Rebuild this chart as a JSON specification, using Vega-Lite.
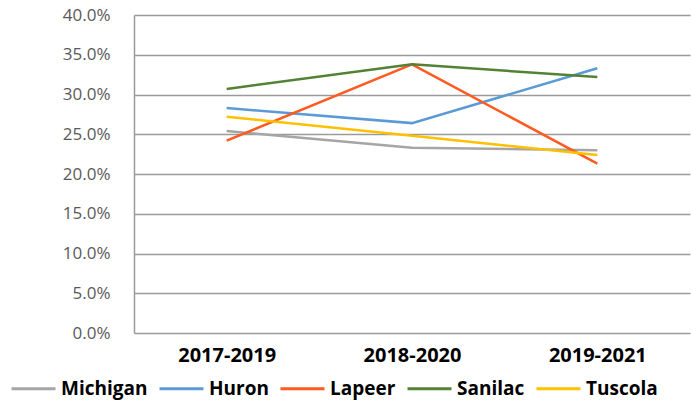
{
  "$schema": "https://vega.github.io/schema/vega-lite/v6.json",
  "width": 556,
  "height": 318,
  "autosize": {"type": "none"},
  "padding": {"left": 134, "top": 15, "right": 2, "bottom": 67},
  "background": "white",
  "config": {"view": {"stroke": null}, "font": "Open Sans"},
  "data": {
    "values": [
      {"period": "2017-2019", "area": "Michigan", "rate": 0.254},
      {"period": "2018-2020", "area": "Michigan", "rate": 0.233},
      {"period": "2019-2021", "area": "Michigan", "rate": 0.230},
      {"period": "2017-2019", "area": "Huron", "rate": 0.283},
      {"period": "2018-2020", "area": "Huron", "rate": 0.264},
      {"period": "2019-2021", "area": "Huron", "rate": 0.333},
      {"period": "2017-2019", "area": "Lapeer", "rate": 0.242},
      {"period": "2018-2020", "area": "Lapeer", "rate": 0.338},
      {"period": "2019-2021", "area": "Lapeer", "rate": 0.213},
      {"period": "2017-2019", "area": "Sanilac", "rate": 0.307},
      {"period": "2018-2020", "area": "Sanilac", "rate": 0.338},
      {"period": "2019-2021", "area": "Sanilac", "rate": 0.322},
      {"period": "2017-2019", "area": "Tuscola", "rate": 0.272},
      {"period": "2018-2020", "area": "Tuscola", "rate": 0.248},
      {"period": "2019-2021", "area": "Tuscola", "rate": 0.224}
    ]
  },
  "mark": {"type": "line", "strokeWidth": 2.5},
  "encoding": {
    "x": {
      "field": "period",
      "type": "ordinal",
      "scale": {"type": "point", "padding": 0.5},
      "axis": {
        "title": null,
        "labelAngle": 0,
        "labelFontSize": 20,
        "labelFontWeight": "bold",
        "labelColor": "#000000",
        "labelPadding": 12,
        "ticks": false,
        "domain": false,
        "grid": false
      }
    },
    "y": {
      "field": "rate",
      "type": "quantitative",
      "scale": {"domain": [0, 0.4], "nice": false},
      "axis": {
        "title": null,
        "format": ".1%",
        "values": [0, 0.05, 0.1, 0.15, 0.2, 0.25, 0.3, 0.35, 0.4],
        "labelFontSize": 17,
        "labelColor": "#595959",
        "labelPadding": 24,
        "ticks": false,
        "domain": true,
        "domainColor": "#9a9a9a",
        "domainWidth": 1.5,
        "grid": true,
        "gridColor": "#9a9a9a",
        "gridWidth": 1.5
      }
    },
    "color": {
      "field": "area",
      "type": "nominal",
      "sort": ["Michigan", "Huron", "Lapeer", "Sanilac", "Tuscola"],
      "scale": {
        "domain": ["Michigan", "Huron", "Lapeer", "Sanilac", "Tuscola"],
        "range": ["#A5A5A5", "#5B9BD5", "#FF5A1F", "#548235", "#FFC000"]
      },
      "legend": {
        "title": null,
        "orient": "none",
        "direction": "horizontal",
        "legendX": -124,
        "legendY": 350,
        "symbolType": "stroke",
        "symbolSize": 1936,
        "symbolStrokeWidth": 3,
        "labelFontSize": 19,
        "labelFontWeight": "bold",
        "labelColor": "#000000",
        "labelOffset": 4,
        "columnPadding": 5,
        "labelLimit": 200
      }
    }
  }
}
